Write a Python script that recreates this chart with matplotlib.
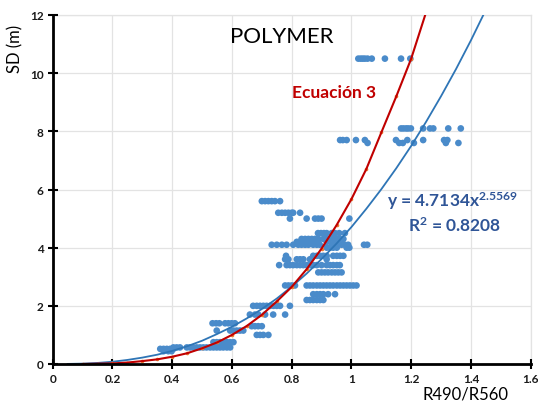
import matplotlib
matplotlib.use("Agg")
import matplotlib.pyplot as plt

# ---- data ----
sd_levels = [10.5, 8.1, 7.7, 7.6, 5.6, 5.2, 5.0, 4.5, 4.3, 4.2, 4.1, 4.0,
             3.72, 3.6, 3.4, 3.15, 2.7, 2.4, 2.2, 2.0, 1.7, 1.4, 1.3,
             1.15, 1.0, 0.75, 0.57, 0.52, 0.44]
ratio_by_level = [
    [1.023, 1.031, 1.038, 1.045, 1.054, 1.068, 1.112, 1.166, 1.197],
    [1.166, 1.174, 1.183, 1.190, 1.199, 1.240, 1.263, 1.274, 1.324, 1.366],
    [0.962, 0.971, 0.984, 1.015, 1.045, 1.149, 1.187, 1.240, 1.310, 1.321],
    [1.054, 1.160, 1.172, 1.209, 1.316, 1.358],
    [0.700, 0.711, 0.722, 0.733, 0.744, 0.761],
    [0.755, 0.767, 0.778, 0.789, 0.800, 0.805, 0.828],
    [0.794, 0.850, 0.878, 0.889, 0.900, 0.993],
    [0.888, 0.898, 0.908, 0.917, 0.934, 0.945, 0.959, 0.978],
    [0.833, 0.845, 0.856, 0.867, 0.878, 0.889, 0.906, 0.917, 0.928, 0.939,
     0.951, 0.962, 0.973],
    [0.817, 0.828, 0.839, 0.850, 0.867, 0.878, 0.889, 0.917, 0.945],
    [0.733, 0.750, 0.767, 0.783, 0.805, 0.822, 0.833, 0.845, 0.856, 0.872,
     0.884, 0.894, 0.934, 0.945, 0.956, 0.967, 0.978, 0.989, 1.042, 1.053],
    [0.917, 0.928, 0.939, 0.951, 0.984, 0.993],
    [0.781, 0.872, 0.884, 0.895, 0.906, 0.917, 0.939, 0.951, 0.962, 0.973],
    [0.778, 0.789, 0.817, 0.828, 0.839, 0.861, 0.917],
    [0.758, 0.783, 0.794, 0.805, 0.817, 0.828, 0.839, 0.850, 0.861, 0.872,
     0.884, 0.900, 0.917, 0.928, 0.939, 0.951, 0.961],
    [0.889, 0.900, 0.911, 0.922, 0.934, 0.945, 0.956, 0.967],
    [0.778, 0.789, 0.800, 0.811, 0.850, 0.861, 0.872, 0.884, 0.895, 0.906,
     0.917, 0.928, 0.939, 0.951, 0.962, 0.973, 0.984, 0.995, 1.006, 1.017],
    [0.872, 0.884, 0.895, 0.906, 0.922, 0.945],
    [0.850, 0.861, 0.872, 0.884, 0.895, 0.906],
    [0.671, 0.683, 0.694, 0.705, 0.716, 0.728, 0.739, 0.750, 0.761, 0.794],
    [0.660, 0.677, 0.688, 0.711, 0.738, 0.778],
    [0.535, 0.547, 0.558, 0.577, 0.588, 0.599, 0.610],
    [0.666, 0.677, 0.688, 0.700],
    [0.549, 0.594, 0.605, 0.616, 0.627, 0.638],
    [0.683, 0.694, 0.705, 0.722],
    [0.538, 0.549, 0.560, 0.571, 0.583, 0.594, 0.605],
    [0.404, 0.415, 0.426, 0.449, 0.460, 0.471, 0.482, 0.493, 0.504, 0.515,
     0.527, 0.538, 0.549, 0.560, 0.571, 0.583, 0.594],
    [0.360, 0.371, 0.382, 0.393, 0.404],
    [0.371, 0.387, 0.398],
]

# Power trendline (blue)
fit_x = [0.05, 0.10, 0.15, 0.20, 0.25, 0.30, 0.35, 0.40, 0.45, 0.50, 0.55,
         0.60, 0.65, 0.70, 0.75, 0.80, 0.85, 0.90, 0.95, 1.00, 1.05, 1.10,
         1.15, 1.20, 1.25, 1.30, 1.35, 1.40, 1.45]
fit_y = [0.003, 0.013, 0.037, 0.077, 0.14, 0.22, 0.32, 0.45, 0.61, 0.80, 1.03,
         1.28, 1.57, 1.89, 2.25, 2.66, 3.11, 3.61, 4.14, 4.71, 5.34, 6.01,
         6.73, 7.50, 8.33, 9.21, 10.14, 11.13, 12.18]

# "Ecuación 3" curve (red)
eq3_x = [0.10, 0.15, 0.20, 0.25, 0.30, 0.35, 0.40, 0.45, 0.50, 0.55, 0.60,
         0.65, 0.70, 0.75, 0.80, 0.85, 0.90, 0.95, 1.00, 1.05, 1.10, 1.15,
         1.20, 1.25]
eq3_y = [0.00, 0.01, 0.02, 0.05, 0.10, 0.16, 0.25, 0.37, 0.54, 0.74, 1.00,
         1.31, 1.69, 2.15, 2.65, 3.26, 3.97, 4.77, 5.67, 6.71, 7.96, 9.20,
         10.50, 12.10]

x_ticks = [0, 0.2, 0.4, 0.6, 0.8, 1.0, 1.2, 1.4, 1.6]
x_tick_labels = ["0", "0.2", "0.4", "0.6", "0.8", "1", "1.2", "1.4", "1.6"]
y_ticks = [0, 2, 4, 6, 8, 10, 12]

plt.rcParams['font.family'] = ['Lato', 'DejaVu Sans']

W, H = 538, 402
fig = plt.figure(figsize=(W / 100, H / 100), dpi=100)
ax = fig.add_axes([52.7 / W, 1 - 365 / H, (530.7 - 52.7) / W, (365 - 16) / H])
ax.set_xlim(0, 1.6)
ax.set_ylim(0, 12)

pts_x, pts_y = [], []
for lvl, xs in zip(sd_levels, ratio_by_level):
    pts_x.extend(xs)
    pts_y.extend([lvl] * len(xs))

ax.scatter(pts_x, pts_y, s=23, color='#4a8bca', edgecolors='none', zorder=3,
           clip_on=False)
ax.plot(fit_x, fit_y, color='#2e75b6', lw=1.3, zorder=4)
ax.plot(eq3_x, eq3_y, color='#ed7d31', lw=0, marker='o', markersize=2.6,
        markeredgewidth=0, zorder=4.5)
ax.plot(eq3_x, eq3_y, color='#c00000', lw=1.5, zorder=5)

ax.set_xticks(x_ticks)
ax.set_xticklabels(x_tick_labels)
ax.set_yticks(y_ticks)
ax.grid(True, color='#e3e3e3', lw=0.9, zorder=0)
ax.set_axisbelow(True)
for s in ['top', 'right']:
    ax.spines[s].set_visible(False)
for s in ['left', 'bottom']:
    ax.spines[s].set_linewidth(2)
    ax.spines[s].set_zorder(6)
ax.tick_params(direction='inout', length=7, width=1.5, color='black',
               labelsize=8.5, pad=3)
for lab in ax.get_xticklabels() + ax.get_yticklabels():
    lab.set_fontweight('bold')
    lab.set_color('#1a1a1a')

# extra gridlines at the upper and right limits
ax.axhline(12, color='#e3e3e3', lw=0.9, zorder=0, clip_on=False)
ax.axvline(1.6, color='#e3e3e3', lw=0.9, zorder=0, clip_on=False)

ax.text(0.7675, 11.28, "POLYMER", fontsize=16, ha='center', va='center',
        color='black')
ax.text(0.80, 9.34, "Ecuación 3", fontsize=12.5, fontweight='bold',
        color='#c00000', ha='left', va='center')
ax.text(1.119, 5.64, r"y = 4.7134x$\mathregular{^{2.5569}}$", fontsize=12.5,
        fontweight='bold', color='#2f5597', ha='left', va='center')
ax.text(1.189, 4.78, r"R$\mathregular{^{2}}$ = 0.8208", fontsize=12.5,
        fontweight='bold', color='#2f5597', ha='left', va='center')

fig.text(15.5 / W, 1 - 49 / H, "SD (m)", rotation=90, fontsize=12,
         ha='center', va='center')
fig.text(466 / W, 1 - 400 / H, "R490/R560", fontsize=12, ha='center',
         va='baseline')

fig.savefig("out.png", dpi=100)
